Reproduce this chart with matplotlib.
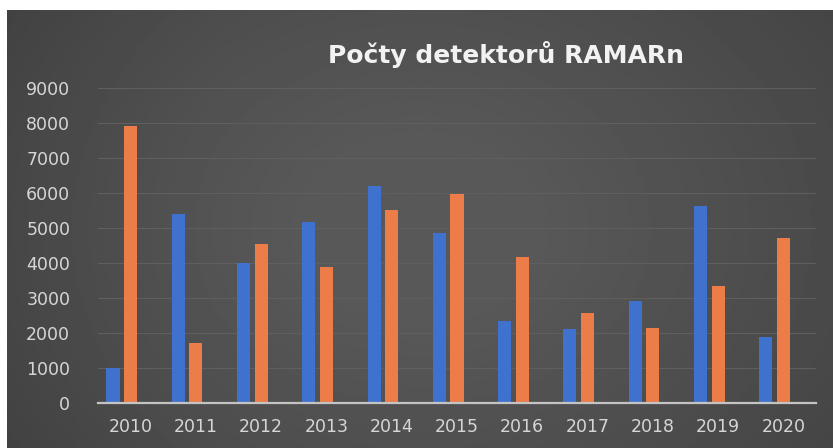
import numpy as np
import matplotlib.pyplot as plt

# Data
roky = ["2010", "2011", "2012", "2013", "2014", "2015", "2016", "2017", "2018", "2019", "2020"]
modra = [1000, 5410, 4000, 5160, 6210, 4870, 2330, 2120, 2910, 5620, 1890]
oranzova = [7920, 1710, 4550, 3900, 5520, 5980, 4170, 2570, 2150, 3330, 4700]

fig = plt.figure(figsize=(8.33, 4.48), dpi=100, facecolor="white")

# dark background with a soft vignette (a bit darker on the left)
bg = fig.add_axes([7/833, 0, 1 - 7/833, 1 - 10/448])
yy, xx = np.mgrid[-1:1:200j, -1:1:400j]
r = np.sqrt((xx * 1.0)**2 + (yy * 0.7)**2)
grad = 0.345 - 0.08 * np.clip(r - 0.3, 0, None) - 0.025 * np.clip(-xx - 0.5, 0, None)
bg.imshow(grad, cmap="gray", vmin=0, vmax=1, aspect="auto", extent=[0, 1, 0, 1])
bg.axis("off")

ax = fig.add_axes([98/833, 45/448, 718/833, 315/448])
ax.patch.set_alpha(0)

x = np.arange(len(roky))
w = 0.2
ax.bar(x - 0.27, modra, width=w, color="#3f72cf", zorder=3)
ax.bar(x, oranzova, width=w, color="#ec7c48", zorder=3)

ax.set_xlim(-0.5, len(roky) - 0.5)
ax.set_ylim(0, 9000)
ax.set_yticks(np.arange(0, 9001, 1000))
ax.set_xticks(x)
ax.set_xticklabels(roky)
ax.yaxis.grid(True, color="#5f5f5f", linewidth=0.8, zorder=0)
for s in ["top", "right", "left"]:
    ax.spines[s].set_visible(False)
ax.spines["bottom"].set_color("#c4c4c4")
ax.spines["bottom"].set_linewidth(1.6)
ax.spines["bottom"].set_zorder(4)
ax.tick_params(axis="both", length=0, colors="#d6d6d6", labelsize=12.5)
ax.tick_params(axis="y", pad=20)
ax.tick_params(axis="x", pad=11)

fig.text(506/833, 1 - 54/448, "Počty detektorů RAMARn", color="#f2f2f2",
         fontsize=18, fontweight="bold", ha="center", va="center")

plt.savefig("out.png", dpi=100, facecolor=fig.get_facecolor())
